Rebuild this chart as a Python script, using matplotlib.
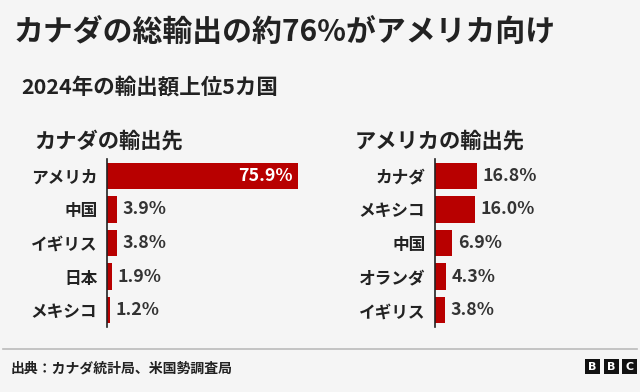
import matplotlib.pyplot as plt
from matplotlib.patches import Rectangle

plt.rcParams['font.family'] = ['Noto Sans CJK JP', 'DejaVu Sans']

# data
canada_dest = ['アメリカ', '中国', 'イギリス', '日本', 'メキシコ']
canada_share = [75.9, 3.9, 3.8, 1.9, 1.2]
us_dest = ['カナダ', 'メキシコ', '中国', 'オランダ', 'イギリス']
us_share = [16.8, 16.0, 6.9, 4.3, 3.8]

bg = '#f5f5f5'
red = '#b80000'
dark = '#222222'

W, H = 640, 392
fig = plt.figure(figsize=(6.4, 3.92), dpi=100, facecolor=bg)

# headline texts
fig.text(14 / W, 1 - 32 / H, 'カナダの総輸出の約76%がアメリカ向け', fontsize=21.5,
         fontweight='bold', color=dark, va='center', ha='left')
fig.text(21 / W, 1 - 87 / H, '2024年の輸出額上位5カ国', fontsize=15.5,
         fontweight='bold', color=dark, va='center', ha='left')


def panel(x0, title, title_x, names, vals):
    xmax = 80
    ax = fig.add_axes([x0 / W, 1 - 327 / H, 2.52 * xmax / W, 168 / H])
    ax.set_facecolor(bg)
    y = range(len(names))
    ax.barh(y, vals, height=0.78, color=red)
    ax.set_xlim(0, xmax)
    ax.set_ylim(len(names) - 0.5, -0.5)
    ax.set_yticks(list(y))
    ax.set_yticklabels(names, fontsize=12, fontweight='bold', color=dark)
    ax.tick_params(axis='y', length=0, pad=7)
    ax.set_xticks([])
    for s in ['top', 'right', 'bottom']:
        ax.spines[s].set_visible(False)
    ax.spines['left'].set_color(dark)
    ax.spines['left'].set_linewidth(1.2)
    for i, v in enumerate(vals):
        if v > 40:
            ax.text(v - 2, i, f'{v:.1f}%', color='white', fontsize=12.8,
                    fontweight='bold', va='center', ha='right')
        else:
            ax.text(v + 2.2, i, f'{v:.1f}%', color='#333333', fontsize=12.8,
                    fontweight='bold', va='center', ha='left')
    fig.text(title_x / W, 1 - 141 / H, title, fontsize=15.3, fontweight='bold',
             color=dark, va='center', ha='left')
    return ax


panel(107, 'カナダの輸出先', 34, canada_dest, canada_share)
panel(435, 'アメリカの輸出先', 355, us_dest, us_share)

# footer
fig.add_artist(plt.Line2D([3 / W, 637 / W], [1 - 349 / H, 1 - 349 / H],
                          color='#bbbbbb', linewidth=1.2))
fig.text(11 / W, 1 - 369 / H, '出典：カナダ統計局、米国勢調査局', fontsize=10,
         fontweight='bold', color=dark, va='center', ha='left')

# BBC logo
for k, ch in enumerate('BBC'):
    bx = 585 + k * 18.5
    fig.add_artist(Rectangle((bx / W, 1 - 374 / H), 15 / W, 15 / H,
                             facecolor='#111111', edgecolor='none',
                             transform=fig.transFigure))
    fig.text((bx + 7.5) / W, 1 - 366.5 / H, ch, fontsize=8, fontweight='bold',
             color='white', va='center', ha='center', family='DejaVu Sans')

fig.savefig('out.png', dpi=100, facecolor=bg)
